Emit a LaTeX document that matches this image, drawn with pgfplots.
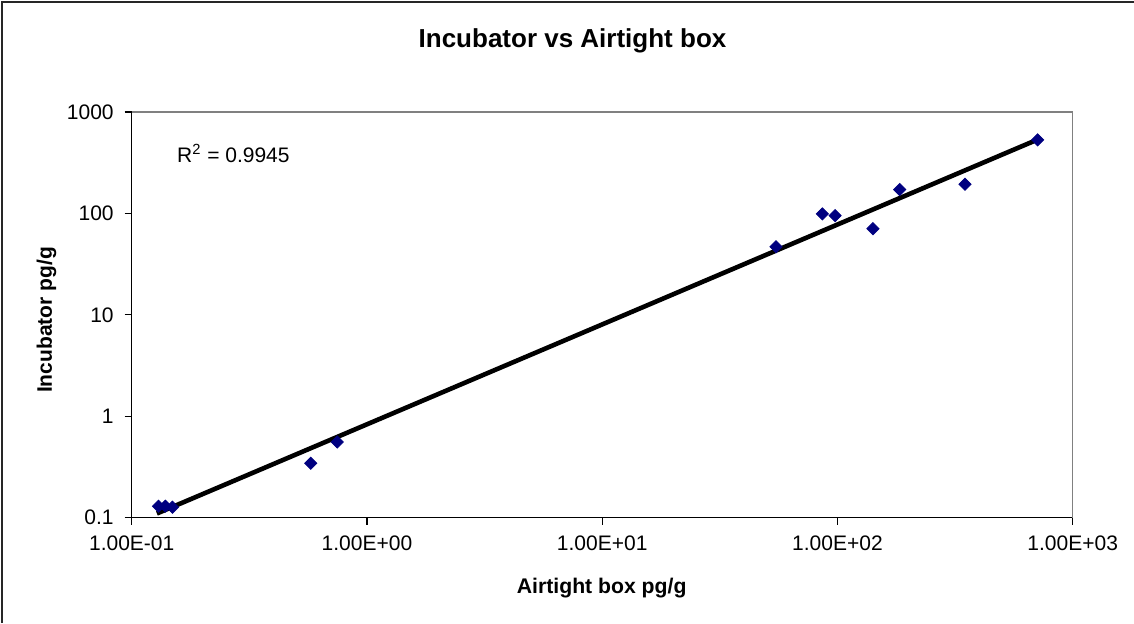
\documentclass[border=0pt]{standalone}
\usepackage{pgfplots}
\pgfplotsset{compat=1.18}
\usepackage{fontspec}
\setmainfont{Liberation Sans}
\definecolor{navyblue}{HTML}{000080}
\begin{document}
\begin{tikzpicture}
\path[use as bounding box] (0,0) rectangle (567pt,311.5pt);
\draw[line width=1pt,black!85] (1pt,0) -- (1pt,310.7pt) -- (567pt,310.7pt);
\begin{axis}[
  at={(65.85pt,52.65pt)}, anchor=south west,
  scale only axis, width=470.5pt, height=202.85pt,
  xmode=log, ymode=log,
  xmin=0.1, xmax=1000, ymin=0.1, ymax=1000,
  axis x line*=bottom, axis y line*=left,
  axis line style={black, line width=0.6pt},
  xtick={0.1,1,10,100,1000},
  xticklabels={1.00E-01,1.00E+00,1.00E+01,1.00E+02,1.00E+03},
  ytick={0.1,1,10,100,1000},
  yticklabels={0.1,1,10,100,1000},
  xminorticks=false, yminorticks=false,
  tick align=outside, major tick length=3.5pt,
  tick style={black, line width=0.6pt},
  ticklabel style={font=\fontsize{10.5}{12}\selectfont},
  xticklabel style={yshift=-2pt},
  yticklabel style={xshift=-2pt},
  clip=false,
]
\draw[gray, line width=0.8pt] (rel axis cs:0,1) -- (rel axis cs:1,1) -- (rel axis cs:1,0);
\addplot[black, line width=2.3pt] coordinates {(0.128,0.110) (692,522)};
\addplot[only marks, mark=square*, mark size=2.15pt, mark options={rotate=45, fill=navyblue, draw=navyblue}] coordinates {
(0.130,0.130) (0.139,0.130) (0.149,0.127) (0.577,0.344) (0.748,0.558)
(54.8,47.0) (86.3,98.9) (97.7,95.1) (141.6,70.8) (184,171.7) (348.6,194) (710,531)
};
\end{axis}
\node[font=\bfseries\fontsize{13}{15}\selectfont] at (286.25pt,291pt) {Incubator vs Airtight box};
\node[font=\bfseries\fontsize{10.6}{12}\selectfont] at (300.85pt,17.5pt) {Airtight box pg/g};
\node[font=\bfseries\fontsize{10.5}{12}\selectfont, rotate=90] at (23.25pt,151.5pt) {Incubator pg/g};
\node[anchor=base west, inner sep=0pt, font=\fontsize{10.5}{12}\selectfont] at (88.35pt,230.15pt) {R\textsuperscript{2} = 0.9945};
\end{tikzpicture}
\end{document}
